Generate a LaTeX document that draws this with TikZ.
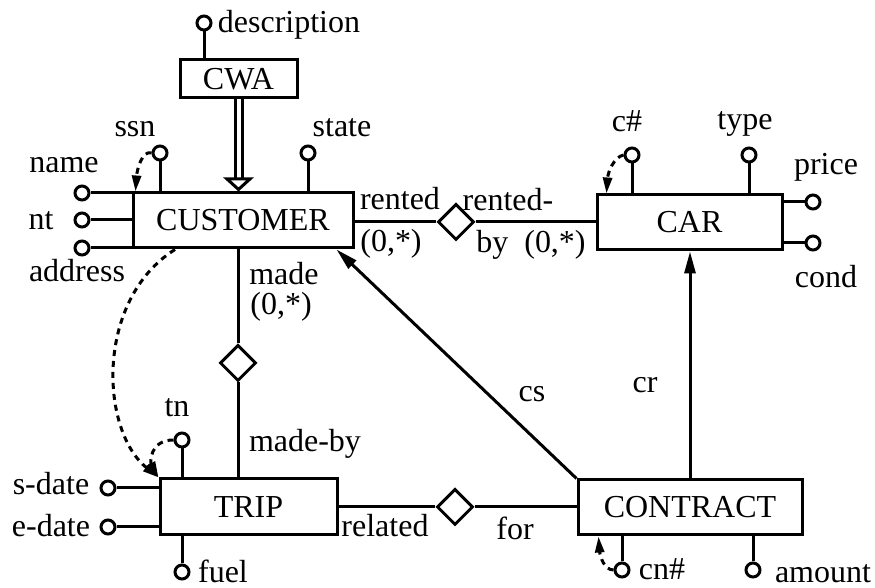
\documentclass[tikz,border=0pt]{standalone}
\usepackage{fontspec}
\setmainfont{Liberation Serif}
\usetikzlibrary{arrows.meta,shapes.geometric}

\begin{document}
\begin{tikzpicture}[x=0.5pt,y=-0.5pt,line width=1.5pt,font=\fontsize{16}{19}\selectfont,
  entity/.style={draw,rectangle,inner sep=0pt,minimum height=27.5pt},
  rel/.style={draw,diamond,inner sep=0pt,minimum width=18pt,minimum height=18pt},
  attr/.style={draw,circle,inner sep=0pt,minimum size=7pt},
  lbl/.style={anchor=base,inner sep=0pt},
  ref/.style={-{Triangle[length=11pt,width=5.5pt]}},
  idref/.style={dash pattern=on 3pt off 2.5pt,-{Triangle[length=8pt,width=4.5pt]}}]

\useasboundingbox (0,0) rectangle (875,588);

\node[entity,minimum width=58.5pt,minimum height=19pt] (CWA)   at (238.5,79)   {CWA};
\node[entity,minimum width=110pt]                      (CUST)  at (243,220.5)  {CUSTOMER};
\node[entity,minimum width=92.5pt]                     (CAR)   at (689.5,222.5){CAR};
\node[entity,minimum width=88.5pt,minimum height=28pt] (TRIP)  at (248.5,507)  {TRIP};
\node[entity,minimum width=112pt]                      (CONTR) at (690,507.5)  {CONTRACT};

\node[rel] (RENT) at (456,222) {};
\node[rel] (MADE) at (238,363) {};
\node[rel] (FOR)  at (455,507) {};

\node[attr] (DESC)  at (204,23)  {};
\node[attr] (SSN)   at (160,153) {};
\node[attr] (STATE) at (308,153) {};
\node[attr] (NAME)  at (82,193)  {};
\node[attr] (NT)    at (82,220)  {};
\node[attr] (ADDR)  at (82,248)  {};
\node[attr] (CNO)   at (632,155) {};
\node[attr] (TYPE)  at (749,155) {};
\node[attr] (PRICE) at (813,202) {};
\node[attr] (COND)  at (813,243) {};
\node[attr] (TN)    at (182,440) {};
\node[attr] (SDATE) at (108,488) {};
\node[attr] (EDATE) at (108,527) {};
\node[attr] (FUEL)  at (182,572) {};
\node[attr] (CNNO)  at (622,570) {};
\node[attr] (AMT)   at (753,570) {};

\node[lbl] (lDESC)  at (289,33)  {description};
\node[lbl] (lSSN)   at (135,137) {ssn};
\node[lbl] (lSTATE) at (342,137) {state};
\node[lbl] (lNAME)  at (64,173)  {name};
\node[lbl] (lNT)    at (41,230)  {nt};
\node[lbl] (lADDR)  at (77,282)  {address};
\node[lbl] (lCNO)   at (627,132) {c\#};
\node[lbl] (lTYPE)  at (745,130) {type};
\node[lbl] (lPRICE) at (826,175) {price};
\node[lbl] (lCOND)  at (826,288) {cond};
\node[lbl] (lTN)    at (177,417) {tn};
\node[lbl] (lSDATE) at (51,495)  {s-date};
\node[lbl] (lEDATE) at (51,537)  {e-date};
\node[lbl] (lFUEL)  at (223,583) {fuel};
\node[lbl] (lCNNO)  at (662,580) {cn\#};
\node[lbl] (lAMT)   at (823,583) {amount};

\node[lbl] (RENTED)   at (400,210) {rented};
\node[lbl] (RENTEDC)  at (391,252) {(0,*)};
\node[lbl] (RENTEDBY) at (508,211) {rented-};
\node[lbl] (BYC)      at (531,253) {by\ \ (0,*)};
\node[lbl] (MADEL)    at (284,285) {made};
\node[lbl] (MADEC)    at (281,315) {(0,*)};
\node[lbl] (MADEBY)   at (305,452) {made-by};
\node[lbl] (RELATED)  at (385,537) {related};
\node[lbl] (FORL)     at (515,540) {for};
\node[lbl] (CS)       at (532,402) {cs};
\node[lbl] (CR)       at (645,393) {cr};

% attributes
\path (DESC)  edge (DESC |- CWA.north)
      (SSN)   edge (SSN |- CUST.north)
      (STATE) edge (STATE |- CUST.north)
      (NAME)  edge (NAME -| CUST.west)
      (NT)    edge (NT -| CUST.west)
      (ADDR)  edge (ADDR -| CUST.west)
      (CNO)   edge (CNO |- CAR.north)
      (TYPE)  edge (TYPE |- CAR.north)
      (PRICE) edge (PRICE -| CAR.east)
      (COND)  edge (COND -| CAR.east)
      (TN)    edge (TN |- TRIP.north)
      (FUEL)  edge (FUEL |- TRIP.south)
      (SDATE) edge (SDATE -| TRIP.west)
      (EDATE) edge (EDATE -| TRIP.west)
      (CNNO)  edge (CNNO |- CONTR.south)
      (AMT)   edge (AMT |- CONTR.south);

% relationships
\path (RENT) edge (RENT -| CUST.east)
             edge (RENT -| CAR.west)
      (MADE) edge (MADE |- CUST.south)
             edge (MADE |- TRIP.north)
      (FOR)  edge (FOR -| TRIP.east)
             edge (FOR -| CONTR.west);

\path[ref] (CONTR.north west) edge ([xshift=-9pt]CUST.south east)
           (CONTR.north)      edge (CONTR.north |- CAR.south);

\draw[double,double distance=2pt,-{Triangle[open,length=7pt,width=15pt]}] (CWA.south) -- (CWA.south |- CUST.north);

% keys
\draw[idref] (SSN.west) .. controls (142,150) and (137,170) .. ([xshift=2pt]CUST.north west);
\draw[idref] (CNO.west) .. controls (614,157) and (608,172) .. ([xshift=5.5pt]CAR.north west);
\draw[idref] (TN.west) .. controls (150,440) and (150,462) .. (TRIP.north west);
\draw[idref] ([xshift=-34pt]CUST.south) .. controls (95,300) and (100,430) .. (TRIP.north west);
\draw[idref] (CNNO.west) .. controls (604,570) and (600,556) .. ([xshift=11pt]CONTR.south west);
\end{tikzpicture}
\end{document}
